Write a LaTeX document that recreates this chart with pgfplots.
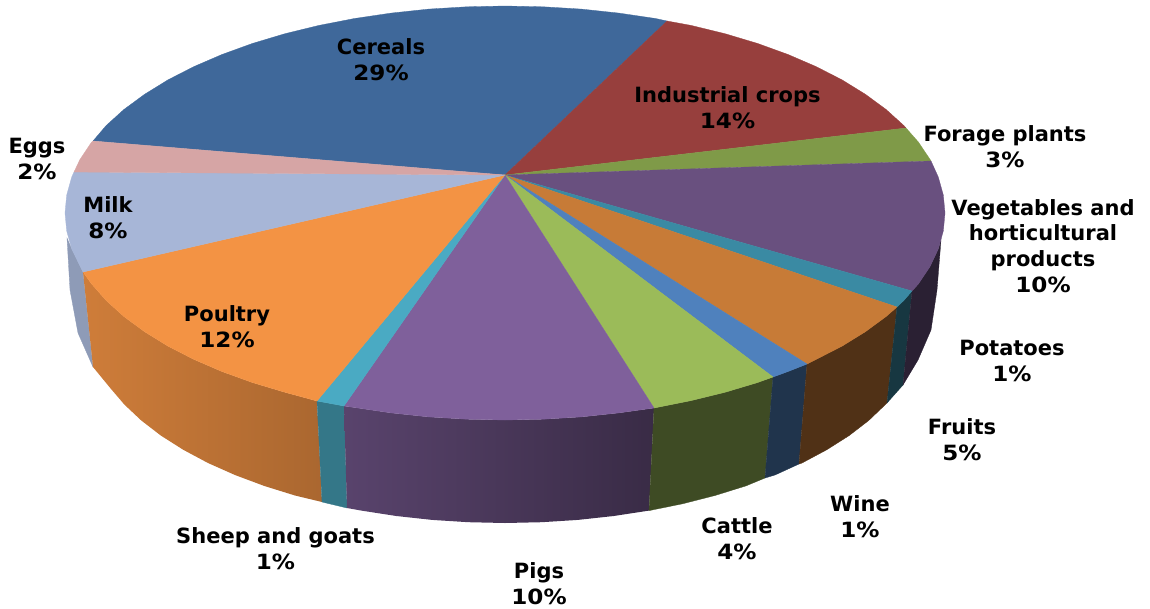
\documentclass[border=0pt]{standalone}
\usepackage{fontspec}
\setmainfont{DejaVu Sans}
\usepackage{graphicx}
\usepackage{pgfplots}
\pgfplotsset{compat=1.18}

\definecolor{cereals}{HTML}{3F689A}
\definecolor{industrial}{HTML}{973F3D}
\definecolor{forage}{HTML}{7F9A48}
\definecolor{vegetables}{HTML}{69507F}
\definecolor{potatoes}{HTML}{3A8AA3}
\definecolor{fruits}{HTML}{C77B37}
\definecolor{wine}{HTML}{4F81BD}
\definecolor{cattle}{HTML}{9BBB59}
\definecolor{pigs}{HTML}{7F609B}
\definecolor{sheep}{HTML}{4AAAC3}
\definecolor{poultry}{HTML}{F39344}
\definecolor{milk}{HTML}{A7B6D7}
\definecolor{eggs}{HTML}{D6A5A5}

\tikzset{
  wedge/.style={fill=#1, draw=#1, line width=0.3pt},
  lab/.style={font=\fontsize{21}{25.8}\selectfont\bfseries, align=center, black, inner sep=0pt},
}
% Verdana digits are wider than DejaVu's
\newcommand{\pct}[1]{\scalebox{1.1}[1]{#1\%}}

\begin{document}
\begin{tikzpicture}
\path[use as bounding box] (0,0) rectangle (1150pt,608pt);
\begin{axis}[
    at={(0,0)}, anchor=south west,
    scale only axis, width=1150pt, height=608pt,
    xmin=0, xmax=1150, ymin=0, ymax=608,
    y dir=reverse,
    hide axis,
    clip=false,
]
% side walls
\addplot[wedge={milk!85!black}] coordinates {
    (83,272) (71.7,248.9) (67,238) (70,290) (78,333) (93,367)
} --cycle;
\addplot[left color=poultry!85!black, right color=poultry!70!black, draw=none] coordinates {
    (83,272) (91.5,283.8) (106.2,300.5) (123.9,316.5) (144.6,331.7) (167.9,346.1) (193.9,359.4)
    (222.2,371.6) (252.6,382.6) (285,392.3) (317,401)
    (322,502) (295,495.5) (264.1,485.9) (235,475) (208,463) (183.3,449.8) (160.9,435.6)
    (141.3,420.5) (124.4,404.6) (110.3,388.1) (93,367)
} --cycle;
\addplot[wedge={sheep!70!black}] coordinates {
    (317,401) (344,406) (347,508) (322,502)
} --cycle;
\addplot[left color=pigs!70!black, right color=pigs!45!black, draw=none] coordinates {
    (344,406) (354.5,407.5) (391.1,412.9) (428.6,416.9) (466.7,419.2) (505,420) (543.3,419.2)
    (581.4,416.9) (618.9,412.9) (654,408)
    (649,510.6) (613.7,516) (577.9,519.9) (541.6,522.2) (505,523) (468.4,522.2) (432.1,519.9)
    (396.3,516) (361.4,510.6) (347,508)
} --cycle;
\addplot[wedge={cattle!40!black}] coordinates {
    (654,408) (691,400.6) (725,392.3) (757.4,382.6) (773,377)
    (765,478) (745.9,485.9) (715,495.5) (682.5,503.8) (649,510.6)
} --cycle;
\addplot[wedge={wine!40!black}] coordinates {
    (773,377) (787.8,371.6) (807,364) (799,464) (775,475) (765,478)
} --cycle;
\addplot[wedge={fruits!40!black}] coordinates {
    (807,364) (816.1,359.4) (842.1,346.1) (865.4,331.7) (886.1,316.5) (897,307)
    (887,403) (868.7,420.5) (849.1,435.6) (826.7,449.8) (802,463) (799,464)
} --cycle;
\addplot[wedge={potatoes!40!black}] coordinates {
    (897,307) (903.8,300.5) (912,291) (903,385) (887,403)
} --cycle;
\addplot[wedge={vegetables!40!black}] coordinates {
    (912,291) (918.5,283.8) (930,266.6) (938.3,248.9) (941,240)
    (937,290) (931,330) (918,360) (903,385)
} --cycle;
% top face
\addplot[wedge=cereals] coordinates {
    (505,175) (93,141) (106.2,125.5) (123.9,109.5) (144.6,94.3) (167.9,79.9) (193.9,66.6)
    (222.2,54.4) (252.6,43.4) (285,33.7) (319,25.4) (354.5,18.5) (391.1,13.1) (428.6,9.1)
    (466.7,6.8) (505,6) (543.3,6.8) (581.4,9.1) (618.9,13.1) (655.5,18.5) (667,21)
} --cycle;
\addplot[wedge=industrial] coordinates {
    (505,175) (667,21) (691,25.4) (725,33.7) (757.4,43.4) (787.8,54.4) (816.1,66.6)
    (842.1,79.9) (865.4,94.3) (886.1,109.5) (903.8,125.5) (906,128)
} --cycle;
\addplot[wedge=forage] coordinates {
    (505,175) (906,128) (918.5,142.2) (930,159.4) (931,161)
} --cycle;
\addplot[wedge=vegetables] coordinates {
    (505,175) (931,161) (938.3,177.1) (943.3,195) (945,213) (943.3,231) (938.3,248.9)
    (930,266.6) (918.5,283.8) (912,291)
} --cycle;
\addplot[wedge=potatoes] coordinates {
    (505,175) (912,291) (903.8,300.5) (897,307)
} --cycle;
\addplot[wedge=fruits] coordinates {
    (505,175) (897,307) (886.1,316.5) (865.4,331.7) (842.1,346.1) (816.1,359.4) (807,364)
} --cycle;
\addplot[wedge=wine] coordinates {
    (505,175) (807,364) (787.8,371.6) (773,377)
} --cycle;
\addplot[wedge=cattle] coordinates {
    (505,175) (773,377) (757.4,382.6) (725,392.3) (691,400.6) (654,408)
} --cycle;
\addplot[wedge=pigs] coordinates {
    (505,175) (654,408) (618.9,412.9) (581.4,416.9) (543.3,419.2) (505,420) (466.7,419.2)
    (428.6,416.9) (391.1,412.9) (354.5,407.5) (344,406)
} --cycle;
\addplot[wedge=sheep] coordinates {
    (505,175) (344,406) (317,401)
} --cycle;
\addplot[wedge=poultry] coordinates {
    (505,175) (317,401) (285,392.3) (252.6,382.6) (222.2,371.6) (193.9,359.4) (167.9,346.1)
    (144.6,331.7) (123.9,316.5) (106.2,300.5) (91.5,283.8) (83,272)
} --cycle;
\addplot[wedge=milk] coordinates {
    (505,175) (83,272) (71.7,248.9) (66.7,231) (65,213) (66.7,195) (71.7,177.1) (74,172)
} --cycle;
\addplot[wedge=eggs] coordinates {
    (505,175) (74,172) (80,159.4) (91.5,142.2) (93,141)
} --cycle;
% labels
\node[lab] at (axis cs:381,60) {Cereals\\\pct{29}};
\node[lab] at (axis cs:727.5,108) {Industrial crops\\\pct{14}};
\node[lab] at (axis cs:1005,147) {Forage plants\\\pct{3}};
\node[lab] at (axis cs:1043,246) {Vegetables and\\horticultural\\products\\\pct{10}};
\node[lab] at (axis cs:1012,361) {Potatoes\\\pct{1}};
\node[lab] at (axis cs:962,440) {Fruits\\\pct{5}};
\node[lab] at (axis cs:860,517) {Wine\\\pct{1}};
\node[lab] at (axis cs:737,539) {Cattle\\\pct{4}};
\node[lab] at (axis cs:539,584) {Pigs\\\pct{10}};
\node[lab] at (axis cs:275.5,549) {Sheep and goats\\\pct{1}};
\node[lab] at (axis cs:227,327) {Poultry\\\pct{12}};
\node[lab] at (axis cs:108,218) {Milk\\\pct{8}};
\node[lab] at (axis cs:37,159) {Eggs\\\pct{2}};
\end{axis}
\end{tikzpicture}
\end{document}
